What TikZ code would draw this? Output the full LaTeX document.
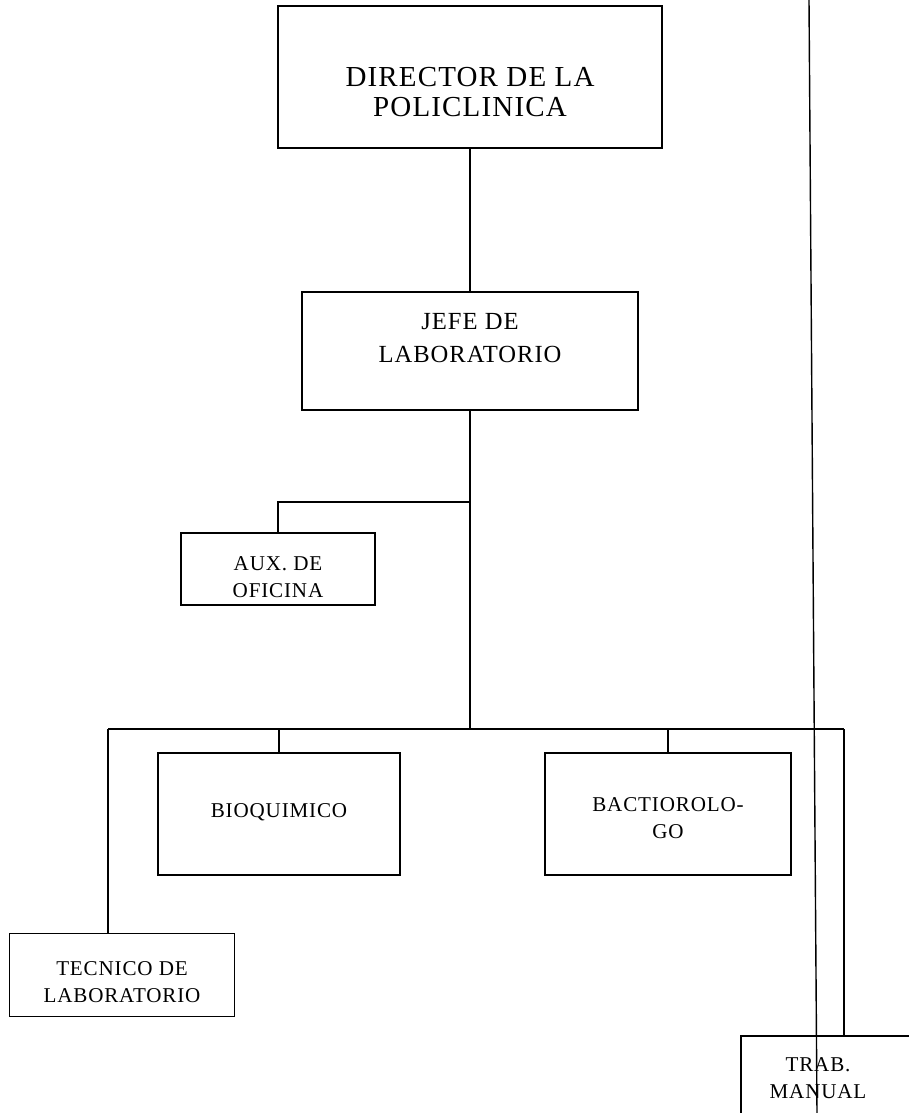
\documentclass[tikz,border=0pt]{standalone}
\usepackage{fontspec}
\setmainfont{Liberation Serif}
\newfontfamily\orgfont[LetterSpace=4]{Liberation Serif}
\usetikzlibrary{positioning}

\begin{document}
\begin{tikzpicture}[
  x=0.02cm, y=-0.02cm,
  line width=0.8pt,
  every node/.style={inner sep=0pt, align=center, font=\orgfont\fontsize{12}{15}\selectfont},
  orgbox/.style={draw, rectangle}]
  \useasboundingbox (0,0) rectangle (909,1113);
  % boxes
  \node[orgbox, minimum width=7.68cm, minimum height=2.84cm] (D) at (470,77) {};
  \node[orgbox, minimum width=6.72cm, minimum height=2.36cm] (J) at (470,351) {};
  \node[orgbox, minimum width=3.88cm, minimum height=1.44cm] (A) at (278,569) {};
  \node[orgbox, minimum width=4.84cm, minimum height=2.44cm] (B) at (279,814) {};
  \node[orgbox, minimum width=4.92cm, minimum height=2.44cm] (Bc) at (668,814) {};
  \node[orgbox, minimum width=4.5cm, minimum height=1.66cm] (T) at (122,975) {};
  \node[orgbox, minimum width=3.4cm, minimum height=2.2cm] (M) at (826,1091) {};
  % texts
  \node[font=\orgfont\fontsize{16.5}{17.5}\selectfont] (Dt) at (470,92)
        {DIRECTOR DE LA\\POLICLINICA};
  \node[font=\orgfont\fontsize{14}{18.5}\selectfont] (Jt) at (470,338)
        {JEFE DE\\LABORATORIO};
  \node (At) at (278,577) {AUX. DE\\OFICINA};
  \node (Bt) at (279,812) {BIOQUIMICO};
  \node (Bct) at (668,818) {BACTIOROLO-\\GO};
  \node (Tt) at (122,982) {TECNICO DE\\LABORATORIO};
  \node (Mt) at (818,1078) {TRAB.\\MANUAL};
  % junctions
  \coordinate (aJ) at (470,502);
  \coordinate (bM) at (470,729);
  \coordinate (bL) at (108,729);
  \coordinate (bR) at (844,729);
  \coordinate (sT) at (809,0);
  \coordinate (sB) at (817,1113);
  % lines
  \draw (D) -- (J);
  \draw (J) -- (bM);
  \draw (aJ) -| (A);
  \draw (bL) -- (bR);
  \draw (bL) -- (bL |- T.north);
  \draw (bR) -- (bR |- M.north);
  \draw (B) -- (B |- bL);
  \draw (Bc) -- (Bc |- bL);
  \draw (sT) -- (sB);
\end{tikzpicture}
\end{document}
